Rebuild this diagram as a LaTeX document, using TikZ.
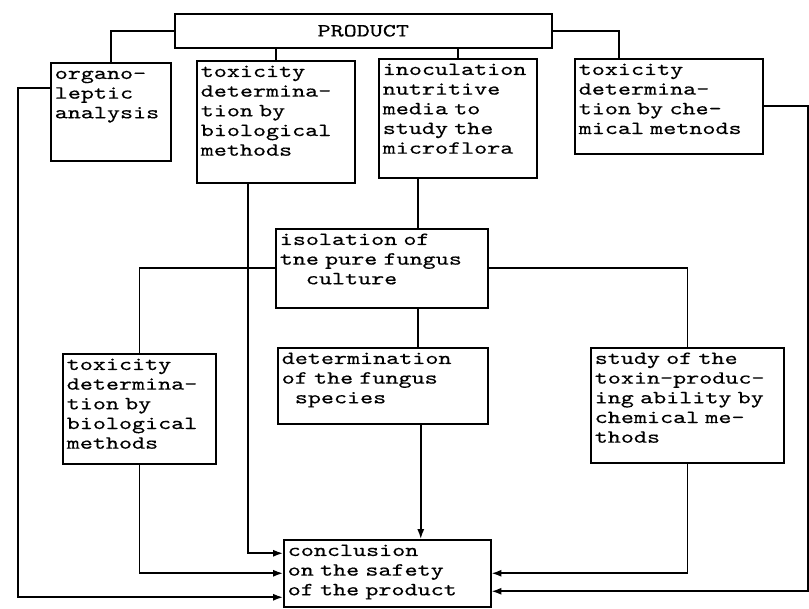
\documentclass[tikz,border=0pt]{standalone}
\usepackage{fontspec}
\newfontfamily\typewriter[FakeStretch=1.34,FakeBold=0.4]{lmmono10-regular.otf}
\newcommand{\twfont}{\typewriter\fontsize{13.2pt}{14pt}\selectfont\spaceskip 9.3pt\relax}
\usetikzlibrary{arrows.meta}
\tikzset{
	box/.style={draw,line width=1.1pt,anchor=north west,align=left,inner xsep=0.1cm,inner ysep=0.075cm,text height=0.33cm,font=\twfont},
	head/.style={draw,line width=1.1pt,anchor=north west,inner sep=0pt,font=\twfont},
	link/.style={line width=1.1pt},
	into/.style={line width=1.1pt,-{Latex[length=7pt,width=5pt]}}
}
\begin{document}
\begin{tikzpicture}
	\useasboundingbox (0,0) rectangle (20.225,-15.225);
			\draw (4.35,-0.325)   node (prod)    [head,minimum width=9.425cm,minimum height=0.85cm] {PRODUCT};
			\draw (1.25,-1.55)    node (organo)  [box,text width=2.8cm,text depth=1.97cm] {organo-\\leptic\\analysis};
			\draw (4.9,-1.5)      node (biotox)  [box,text width=3.75cm,text depth=2.57cm] {toxicity\\determina-\\tion by\\biological\\methods};
			\draw (9.45,-1.45)    node (inoc)    [box,text width=3.75cm,text depth=2.495cm] {inoculation\\nutritive\\media to\\study the\\microflora};
			\draw (14.35,-1.45)   node (chemtox) [box,text width=4.5cm,text depth=1.895cm] {toxicity\\determina-\\tion by che-\\mical metnods};
			\draw (6.875,-5.7)    node (isol)    [box,text width=5.1cm,text depth=1.495cm] {isolation of\\tne pure fungus\\\phantom{xx}culture};
			\draw (1.55,-8.825)   node (biotest) [box,text width=3.625cm,text depth=2.27cm] {toxicity\\determina-\\tion by\\biological\\methods};
			\draw (6.925,-8.675)  node (species) [box,text width=5.05cm,text depth=1.42cm] {determination\\of the fungus\\\phantom{x}species};
			\draw (14.75,-8.675)  node (toxprod) [box,text width=4.625cm,text depth=2.395cm] {study of the\\toxin-produc-\\ing ability by\\chemical me-\\thods};
			\draw (7.075,-13.475) node (concl)   [box,text width=4.975cm,text depth=1.195cm] {conclusion\\on the safety\\of the product};
			\coordinate (lrail) at (0.45,0);
			\coordinate (rrail) at (20.2,0);
			\draw[link] (prod.west) -| (organo.north);
			\draw[link] (prod.south -| biotox.north) -- (biotox.north);
			\draw[link] (prod.south -| inoc.north) -- (inoc.north);
			\draw[link] (prod.east) -| ([xshift=-1.25cm]chemtox.north);
			\draw[link] ([xshift=-1cm]inoc.south) -- ([xshift=-1cm]inoc.south |- isol.north);
			\draw[link] (isol.west) -| (biotest.north);
			\draw[link] (isol.east) -| (toxprod.north);
			\draw[link] ([xshift=0.9cm]isol.south) -- ([xshift=0.9cm]isol.south |- species.north);
			\draw[into] ([xshift=0.95cm]species.south) -- ([xshift=0.95cm]species.south |- concl.north);
			\draw[into] ([xshift=-0.7cm]biotox.south) |- ([yshift=0.5cm]concl.west);
			\draw[into] (biotest.south) |- (concl.west);
			\draw[into] ([yshift=0.6cm]organo.west) -- ([yshift=0.6cm]organo.west -| lrail) |- ([yshift=-0.6cm]concl.west);
			\draw[into] (toxprod.south) |- (concl.east);
			\draw[into] (chemtox.east) -- (chemtox.east -| rrail) |- ([yshift=-0.45cm]concl.east);
\end{tikzpicture}
\end{document}
